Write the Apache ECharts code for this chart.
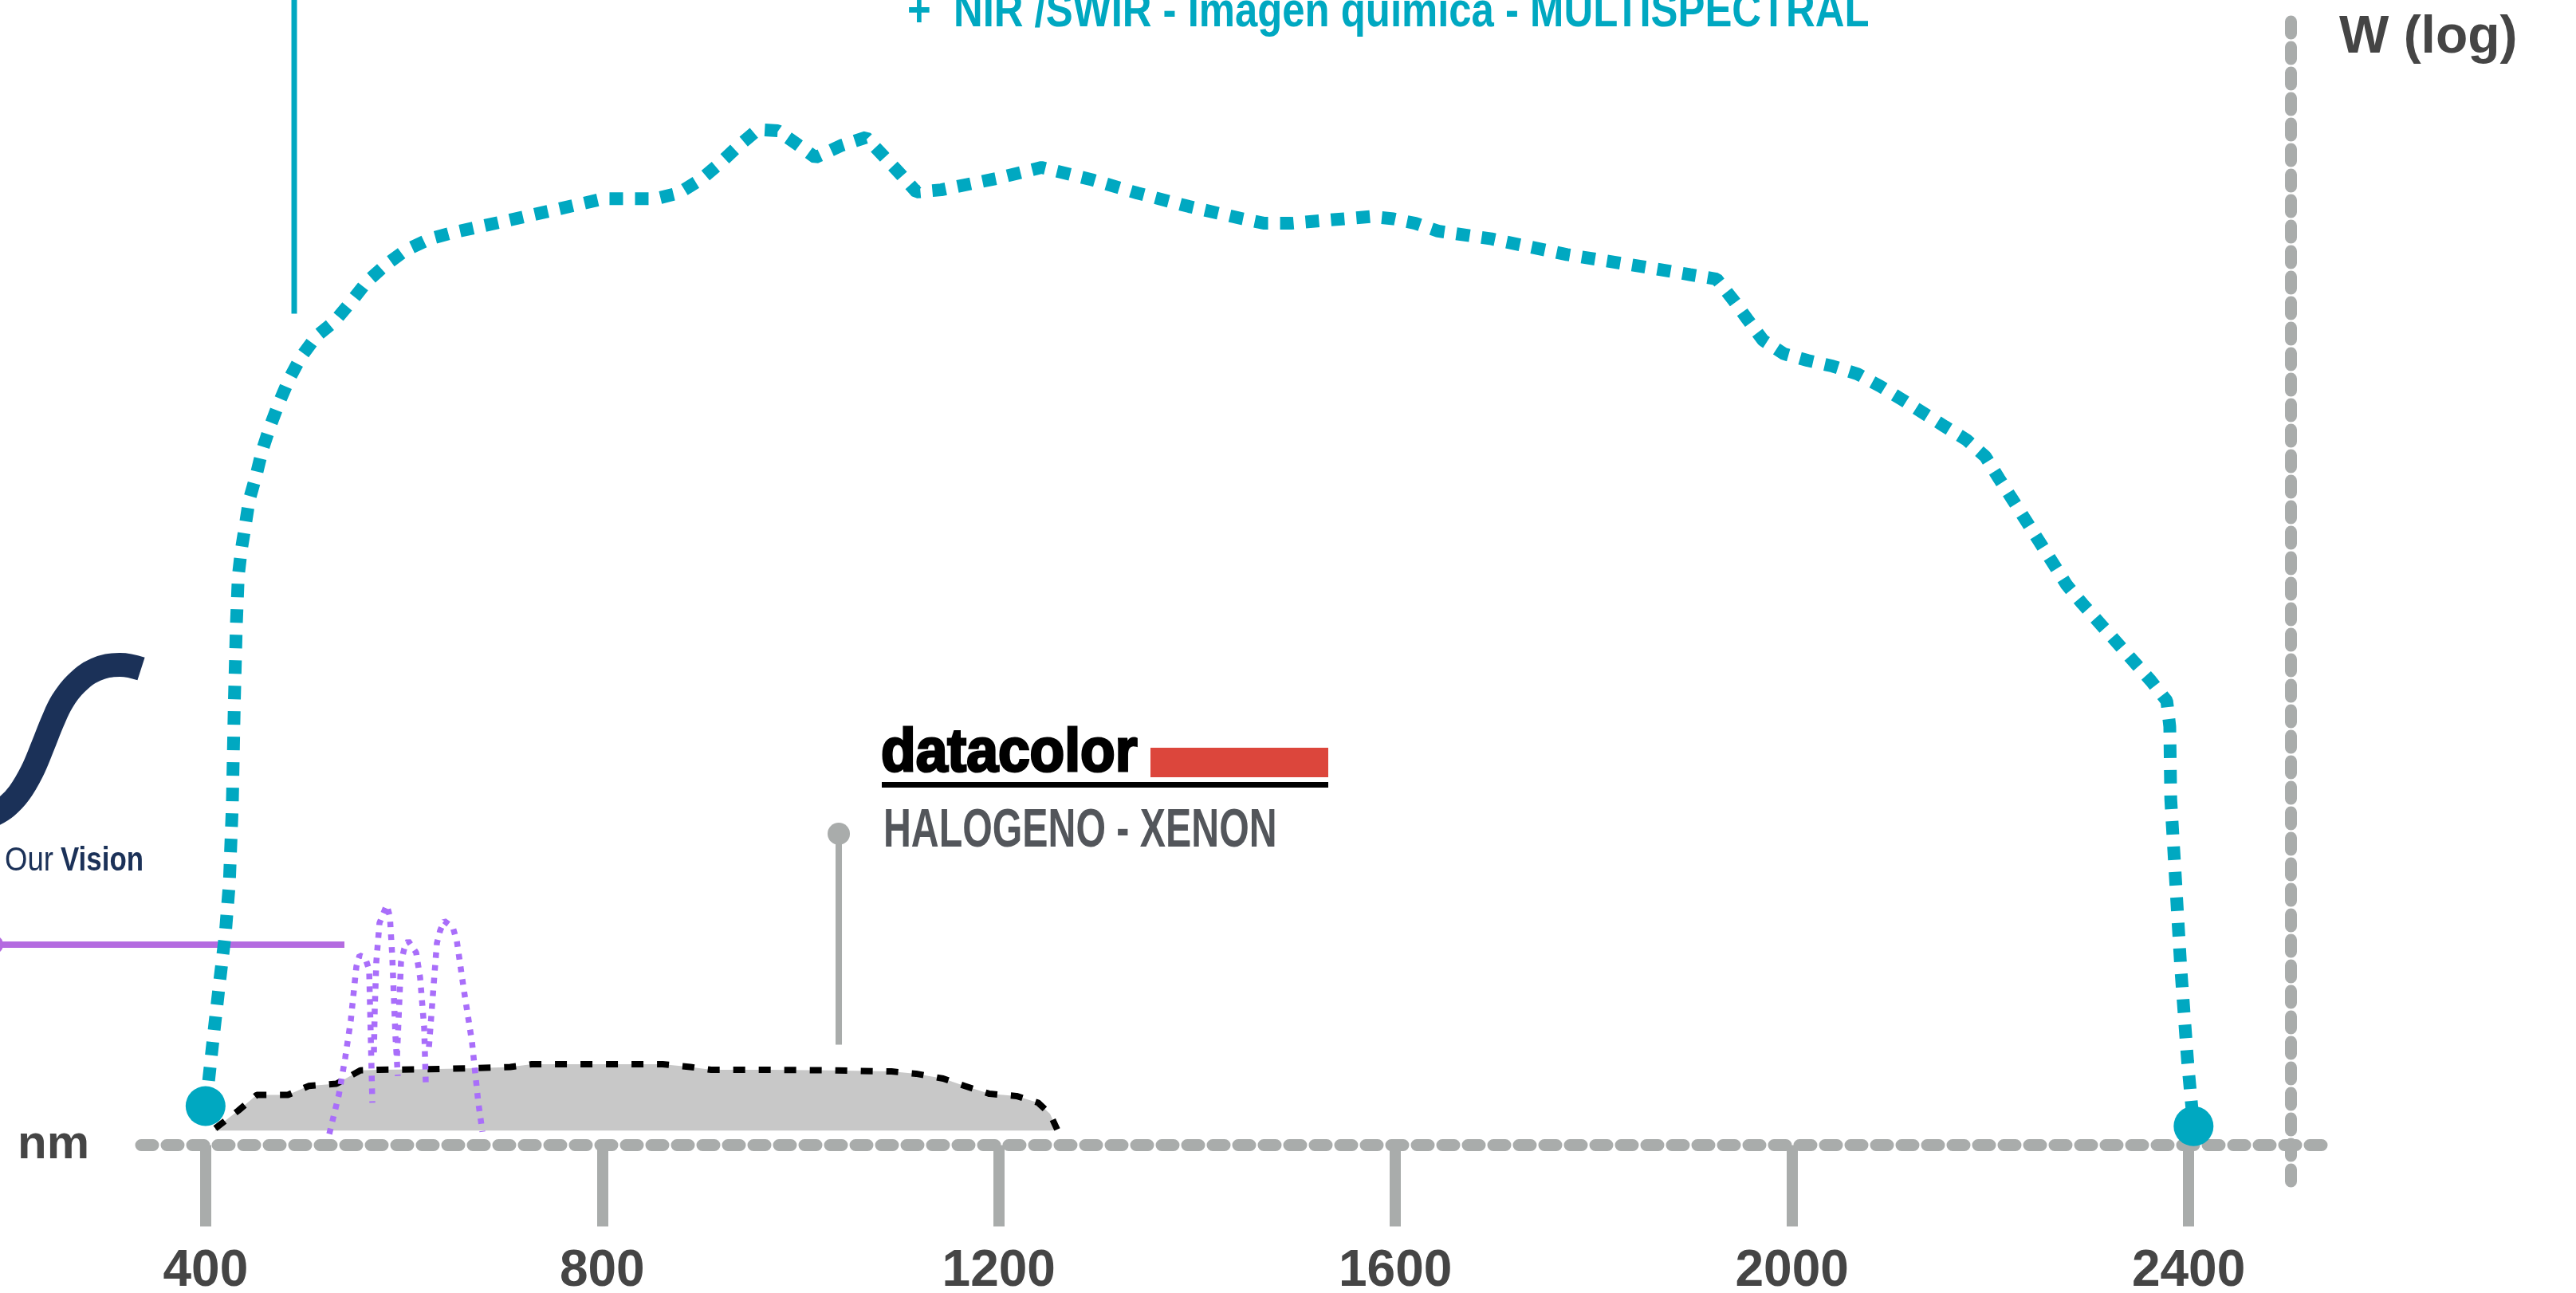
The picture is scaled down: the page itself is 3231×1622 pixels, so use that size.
<!DOCTYPE html>
<html>
<head>
<meta charset="utf-8">
<title>Espectro NIR / SWIR</title>
<script src="https://cdn.jsdelivr.net/npm/echarts@6/dist/echarts.min.js"></script>
<style>
  html, body { margin: 0; padding: 0; background: #fff; }
  #main { width: 3231px; height: 1622px; }
</style>
</head>
<body>
<div id="main"></div>
<script>
(function () {
  'use strict';

  // eje x: longitud de onda (nm)
  var tickValues = [400, 800, 1200, 1600, 2000, 2400];

  // fuente NIR/SWIR (W relativo, escala log)
  var nirCurve = [
    [400, 3.5], [403, 5.7], [408, 9.8], [414, 14.5], [420, 19.0], [424, 23.5], [427, 30.5],
    [429, 39.6], [431, 46.5], [433, 51.0], [436, 53.3], [440, 55.5], [444, 57.8], [451, 60.0],
    [457, 62.2], [465, 64.4], [474, 66.5], [484, 68.6], [496, 70.6], [512, 72.5], [530, 73.8],
    [547, 75.6], [563, 77.4], [582, 78.9], [602, 80.2], [626, 81.2], [651, 81.8], [702, 82.8],
    [752, 83.8], [801, 84.8], [854, 84.8], [877, 85.3], [899, 86.5], [919, 88.0], [937, 89.5],
    [957, 91.0], [977, 90.9], [998, 89.6], [1015, 88.5], [1042, 89.6], [1066, 90.3], [1084, 88.6],
    [1102, 86.9], [1117, 85.4], [1142, 85.6], [1197, 86.6], [1243, 87.6], [1294, 86.5], [1340, 85.3],
    [1392, 84.1], [1446, 83.0], [1468, 82.6], [1495, 82.6], [1521, 82.8], [1575, 83.2], [1598, 83.0],
    [1620, 82.6], [1643, 81.9], [1697, 81.2], [1773, 79.8], [1850, 78.7], [1897, 78.0], [1924, 77.6],
    [1941, 75.7], [1955, 74.0], [1971, 72.1], [1992, 70.9], [2016, 70.3], [2041, 69.8], [2066, 69.1],
    [2089, 68.0], [2111, 66.8], [2154, 64.4], [2176, 63.2], [2195, 61.7], [2209, 59.7], [2222, 57.9],
    [2250, 54.0], [2277, 50.2], [2293, 48.5], [2328, 45.0], [2362, 41.6], [2378, 39.8], [2381, 37.5],
    [2382, 31.0], [2387, 23.5], [2392, 16.0], [2399, 7.5], [2405, 1.7]
  ];
  var nirEnds = [[400, 3.5], [2405, 1.7]];
  var nirLeader = [[489.4, 102.6], [489.4, 74.5]];

  // halogeno - xenon (datacolor)
  var halogenCurve = [
    [409.8, 1.5], [433.1, 3.1], [451.6, 4.5], [483.0, 4.5], [503.9, 5.3], [532.0, 5.5], [556.1, 6.7],
    [574.6, 6.75], [624.5, 6.8], [673.5, 6.9], [707.3, 7.0], [729.0, 7.25], [784.5, 7.25], [860.9, 7.25],
    [889.0, 7.0], [909.9, 6.75], [968.6, 6.75], [1030.5, 6.7], [1091.7, 6.6], [1116.6, 6.4], [1143.9, 5.96],
    [1165.6, 5.3], [1190.6, 4.6], [1217.9, 4.4], [1239.6, 3.8], [1251.7, 2.8], [1258.9, 1.4]
  ];
  var halogenBase = 1.3;
  var halogenLeader = [[1038.6, 27.9], [1038.6, 9.0]];

  // picos LED (visible)
  var ledPeak1 = [[524.8, 1.0], [534.4, 4.5], [540.8, 7.8], [546.5, 11.2], [552.1, 16.0], [555.3, 17.0],
    [560.9, 16.8], [565.0, 15.7], [566.6, 9.75], [568.2, 3.8]];
  var ledPeak2 = [[569.8, 8.3], [570.6, 12.1], [572.2, 16.4], [575.4, 19.9], [582.7, 21.5], [585.9, 20.5],
    [588.3, 16.9], [591.5, 9.75], [593.9, 6.2]];
  var ledPeak3 = [[593.1, 8.0], [597.1, 16.4], [600.4, 17.6], [604.4, 18.3], [612.4, 17.25], [616.4, 15.0],
    [620.5, 10.5], [622.1, 5.5]];
  var ledPeak4 = [[625.3, 8.8], [629.3, 13.5], [633.3, 18.1], [636.5, 19.2], [640.6, 20.1], [649.4, 19.5],
    [653.4, 18.3], [660.7, 13.8], [668.7, 9.25], [675.1, 3.8], [679.2, 1.2]];

  var teal = '#00A8C1';
  var grey = '#A9ACAB';
  var purple = '#A96EFA';
  var txt = '#454545';
  var font = 'Liberation Sans';

  var dom = document.getElementById('main');
  var myChart = echarts.init(dom, null, { renderer: 'canvas' });

  function ledSeries(name, data) {
    return {
      type: 'line', name: name, data: data, symbol: 'none', z: 4,
      lineStyle: { color: purple, width: 7.5, type: [7, 9] }
    };
  }

  var option = {
    animation: false,
    backgroundColor: '#fff',
    grid: { left: 177, right: 318, top: 26, bottom: 140, containLabel: false, outerBoundsMode: 'none' },
    xAxis: {
      type: 'value', min: 335, max: 2535,
      name: 'nm', nameLocation: 'start', nameGap: 65,
      nameTextStyle: { color: txt, fontFamily: font, fontWeight: 'bold', fontSize: 60 },
      axisLine: { show: true, onZero: true, lineStyle: { color: grey, width: 15, type: [15, 17] } },
      axisTick: { show: true, customValues: tickValues, length: 102, lineStyle: { color: grey, width: 14 } },
      axisLabel: {
        customValues: tickValues, margin: 81, color: txt, fontFamily: font, fontWeight: 'bold', fontSize: 64,
        formatter: function (v) { return String(v); }
      },
      splitLine: { show: false }
    },
    yAxis: {
      type: 'value', position: 'right', offset: -40, min: -3.25, max: 100.75,
      name: 'W (log)', nameLocation: 'end', nameGap: -22,
      nameTextStyle: { color: txt, fontFamily: font, fontWeight: 'bold', fontSize: 66,
        align: 'left', verticalAlign: 'middle', padding: [0, 0, 0, 61] },
      axisLine: { show: true, onZero: false, lineStyle: { color: grey, width: 15, type: [15, 17] } },
      axisTick: { show: false },
      axisLabel: { show: false },
      splitLine: { show: false }
    },
    graphic: [
      { type: 'text', x: 1138, y: 15.5, scaleX: 0.82, z: 10,
        style: { text: '+  NIR /SWIR - Imagen química - MULTISPECTRAL', fill: teal,
          font: 'bold 62px "Liberation Sans"', textAlign: 'left', textVerticalAlign: 'middle',
          align: 'left', verticalAlign: 'middle' } },
      { type: 'polyline', z: 10,
        shape: { points: [[177, 839], [150, 834], [120, 840], [95, 858], [78, 880], [66, 905], [54, 935],
          [40, 968], [24, 995], [8, 1012], [-8, 1022]], smooth: 0.4 },
        style: { stroke: '#1B3158', lineWidth: 30, fill: null } },
      { type: 'text', x: 6, y: 1080, scaleX: 0.87, z: 10,
        style: { text: 'Our', fill: '#1B3158', font: '42px "Liberation Sans"',
          textAlign: 'left', textVerticalAlign: 'middle', align: 'left', verticalAlign: 'middle' } },
      { type: 'text', x: 76, y: 1080, scaleX: 0.83, z: 10,
        style: { text: 'Vision', fill: '#1B3158', font: 'bold 42px "Liberation Sans"',
          textAlign: 'left', textVerticalAlign: 'middle', align: 'left', verticalAlign: 'middle' } },
      { type: 'text', x: 1105, y: 946, scaleX: 0.94, z: 10,
        style: { text: 'datacolor', fill: '#000', stroke: '#000', lineWidth: 3, font: 'bold 76px "Liberation Sans"',
          textAlign: 'left', textVerticalAlign: 'middle', align: 'left', verticalAlign: 'middle' } },
      { type: 'rect', z: 10, shape: { x: 1443, y: 938, width: 223, height: 37 }, style: { fill: '#DC463C' } },
      { type: 'rect', z: 10, shape: { x: 1106, y: 981, width: 560, height: 7 }, style: { fill: '#000' } },
      { type: 'text', x: 1108, y: 1043, scaleX: 0.71, z: 10,
        style: { text: 'HALOGENO - XENON', fill: '#53565B', font: 'bold 68px "Liberation Sans"',
          textAlign: 'left', textVerticalAlign: 'middle', align: 'left', verticalAlign: 'middle' } },
      // linea guia morada (sale del borde izquierdo)
      { type: 'line', z: 3, shape: { x1: -10, y1: 1185, x2: 432, y2: 1185 },
        style: { stroke: '#B46BE0', lineWidth: 8 } },
      { type: 'circle', z: 3, shape: { cx: -8, cy: 1185, r: 12 }, style: { fill: '#B46BE0' } }
    ],
    series: [
      {
        type: 'line', name: 'Halógeno - Xenón', data: halogenCurve, symbol: 'none', z: 2,
        lineStyle: { color: '#000', width: 8, type: [15, 17] },
        areaStyle: { color: '#C8C8C8', opacity: 1, origin: halogenBase }
      },
      ledSeries('LED 1', ledPeak1),
      ledSeries('LED 2', ledPeak2),
      ledSeries('LED 3', ledPeak3),
      ledSeries('LED 4', ledPeak4),
      {
        type: 'line', data: halogenLeader, symbol: 'none', z: 3,
        lineStyle: { color: grey, width: 8 }
      },
      {
        type: 'line', data: nirLeader, symbol: 'none', clip: false, z: 5,
        lineStyle: { color: teal, width: 7 }
      },
      {
        type: 'line', name: 'NIR / SWIR', data: nirCurve, symbol: 'none', z: 6,
        lineStyle: { color: teal, width: 16, type: [17, 15] }
      },
      {
        type: 'scatter', data: nirEnds, symbol: 'circle', symbolSize: 50, z: 7,
        itemStyle: { color: teal, opacity: 1 }
      },
      {
        type: 'scatter', data: [halogenLeader[0]], symbol: 'circle', symbolSize: 28, z: 7,
        itemStyle: { color: grey, opacity: 1 }
      }
    ]
  };

  myChart.setOption(option, true);
}());
</script>
</body>
</html>
